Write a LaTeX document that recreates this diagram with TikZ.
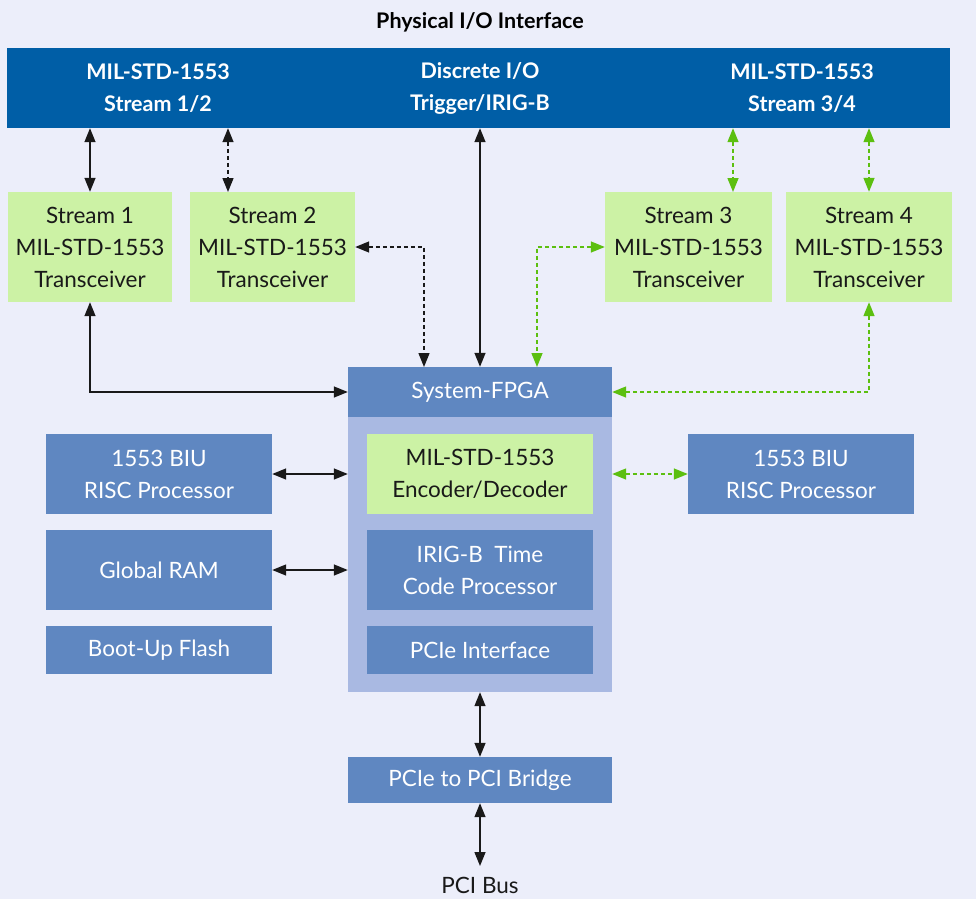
\documentclass[tikz,border=0pt]{standalone}
\usepackage{fontspec}
\setmainfont{Lato}
\usetikzlibrary{arrows.meta,calc}
\definecolor{pagebg}{HTML}{ECEEFA}
\definecolor{barblue}{HTML}{005EA6}
\definecolor{midblue}{HTML}{5F87C1}
\definecolor{paleblue}{HTML}{A9B9E2}
\definecolor{palegreen}{HTML}{CCF2A5}
\definecolor{linkgreen}{HTML}{5CBF10}
\tikzset{
  txt/.style={font=\fontsize{22.5}{32}\selectfont, align=center, inner sep=0pt},
  headtxt/.style={txt, font=\fontsize{21.5}{32}\selectfont\bfseries},
  greenbox/.style={txt, fill=palegreen, text=black!90},
  bluebox/.style={txt, fill=midblue, text=white},
  solidlink/.style={{Triangle[length=14pt,width=11pt]}-{Triangle[length=14pt,width=11pt]}, line width=1.4pt, black!90},
  dashlink/.style={solidlink, dash pattern=on 4pt off 3pt},
  greenlink/.style={solidlink, linkgreen, dash pattern=on 4pt off 3pt}
}
\begin{document}
\begin{tikzpicture}[x=1pt,y=-1pt]
  \fill[pagebg] (0,0) rectangle (976,899);
  \useasboundingbox (0,0) rectangle (976,899);
  % physical interface
  \node[headtxt] (title) at (480,22) {Physical I/O Interface};
  \node[fill=barblue, minimum width=943pt, minimum height=80pt, inner sep=0pt] (bar) at (478.5,88) {};
  \node[headtxt, text=white] (io12) at (158,88) {MIL-STD-1553\\Stream 1/2};
  \node[headtxt, text=white] (dio) at (480,88) {Discrete I/O\\Trigger/IRIG-B};
  \node[headtxt, text=white] (io34) at (802,88) {MIL-STD-1553\\Stream 3/4};
  % transceivers
  \node[greenbox, minimum width=164pt, minimum height=110pt] (s1) at (90,247) {Stream 1\\MIL-STD-1553\\Transceiver};
  \node[greenbox, minimum width=165pt, minimum height=110pt] (s2) at (272.5,247) {Stream 2\\MIL-STD-1553\\Transceiver};
  \node[greenbox, minimum width=167pt, minimum height=110pt] (s3) at (688.5,247) {Stream 3\\MIL-STD-1553\\Transceiver};
  \node[greenbox, minimum width=166pt, minimum height=110pt] (s4) at (869,247) {Stream 4\\MIL-STD-1553\\Transceiver};
  % fpga
  \node[fill=paleblue, minimum width=264pt, minimum height=276pt, inner sep=0pt] (fpga) at (480,554) {};
  \node[bluebox, minimum width=264pt, minimum height=50pt] (fpgahead) at (480,392) {System-FPGA};
  \node[greenbox, minimum width=226pt, minimum height=80pt] (codec) at (480,474) {MIL-STD-1553\\Encoder/Decoder};
  \node[bluebox, minimum width=226pt, minimum height=80pt] (irig) at (480,570) {IRIG-B~~Time\\Code Processor};
  \node[bluebox, minimum width=226pt, minimum height=48pt] (pcie) at (480,650) {PCIe Interface};
  % side blocks
  \node[bluebox, minimum width=226pt, minimum height=80pt] (biul) at (159,474) {1553 BIU\\RISC Processor};
  \node[bluebox, minimum width=226pt, minimum height=80pt] (ram) at (159,570) {Global RAM};
  \node[bluebox, minimum width=226pt, minimum height=48pt] (flash) at (159,650) {Boot-Up Flash};
  \node[bluebox, minimum width=226pt, minimum height=80pt] (biur) at (801,474) {1553 BIU\\RISC Processor};
  % bridge
  \node[bluebox, minimum width=264pt, minimum height=46pt] (bridge) at (480,780) {PCIe to PCI Bridge};
  \node[txt, text=black!90] (pcibus) at (480,885) {PCI Bus};
  \coordinate (busend) at (480,866);
  \coordinate (s2top) at (228,192);
  \coordinate (s3top) at (733,192);
  \coordinate (s2in) at (424,367);
  \coordinate (s3in) at (537,367);
  % links
  \draw[solidlink] (bar.south -| s1.north) -- (s1.north);
  \draw[dashlink] (bar.south -| s2top) -- (s2top);
  \draw[greenlink] (bar.south -| s3top) -- (s3top);
  \draw[greenlink] (bar.south -| s4.north) -- (s4.north);
  \draw[solidlink] (bar.south -| fpgahead.north) -- (fpgahead.north);
  \draw[solidlink] (s1.south) |- (fpgahead.west);
  \draw[dashlink] (s2.east) -| (s2in);
  \draw[greenlink] (s3.west) -| (s3in);
  \draw[greenlink] (s4.south) |- (fpgahead.east);
  \draw[solidlink] (biul.east) -- (biul.east -| fpga.west);
  \draw[solidlink] (ram.east) -- (ram.east -| fpga.west);
  \draw[greenlink] (fpga.east |- biur.west) -- (biur.west);
  \draw[solidlink] (fpga.south) -- (bridge.north);
  \draw[solidlink] (bridge.south) -- (busend);
\end{tikzpicture}
\end{document}
